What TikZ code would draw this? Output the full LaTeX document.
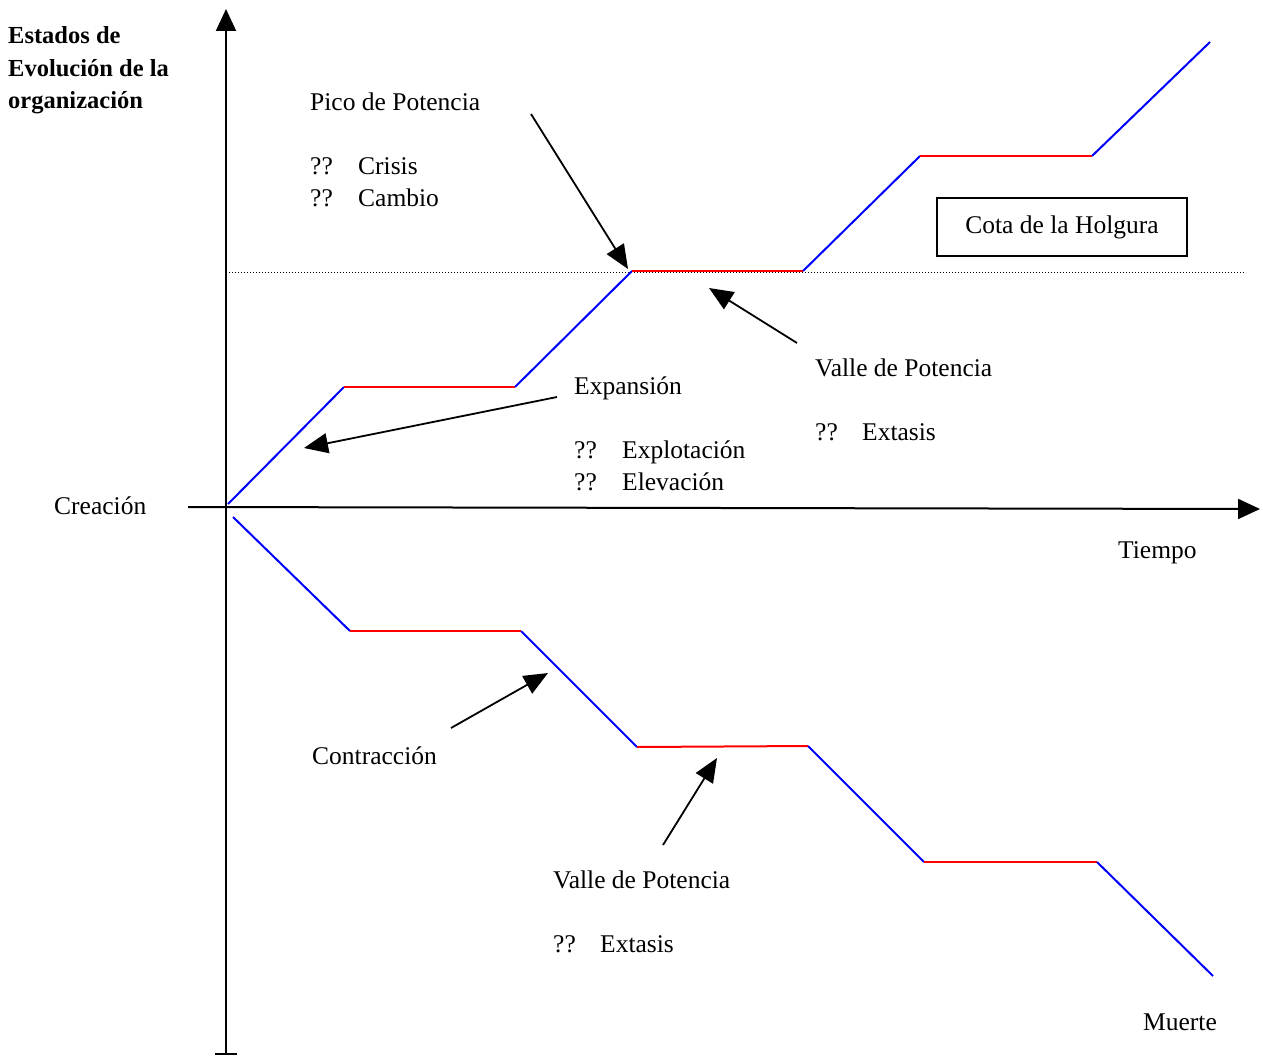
\documentclass[tikz,border=0pt]{standalone}
\usepackage{fontspec}
\setmainfont{Liberation Serif}
\usetikzlibrary{arrows.meta}
\begin{document}
\begin{tikzpicture}[x=1pt,y=-1pt,
  txt/.style={anchor=base west,inner sep=0pt,font=\fontsize{25.5}{30}\selectfont},
  btxt/.style={anchor=base west,inner sep=0pt,font=\fontsize{24.5}{32}\selectfont\bfseries},
  axis/.style={line width=2pt,draw=black},
  pointer/.style={line width=1.8pt,-{Triangle[length=24pt,width=20pt]}},
  rise/.style={line width=2pt,draw=blue},
  flat/.style={line width=2pt,draw=red}]
\useasboundingbox (0,0) rectangle (1263,1057);
% axes
\coordinate (yb) at (226,1055);
\coordinate (yt) at (226,9);
\coordinate (xl) at (188,507);
\coordinate (xr) at (1260,509);
\draw[axis,{Bar[width=22pt]}-{Triangle[length=22pt,width=20pt]}] (yb) -- (yt);
\draw[axis,-{Triangle[length=22pt,width=20pt]}] (xl) -- (xr);
% dotted limit line
\coordinate (dl) at (226,272);
\coordinate (dr) at (1246,272);
\draw[line width=1pt,dotted] (dl) -- (dr);
% upper curve
\coordinate (u0) at (228,504);
\coordinate (u1) at (344,387);
\coordinate (u2) at (515,387);
\coordinate (u3) at (632,271);
\coordinate (u4) at (803,271);
\coordinate (u5) at (920,156);
\coordinate (u6) at (1092,156);
\coordinate (u7) at (1210,42);
\draw[rise] (u0) -- (u1);
\draw[flat] (u1) -- (u2);
\draw[rise] (u2) -- (u3);
\draw[flat] (u3) -- (u4);
\draw[rise] (u4) -- (u5);
\draw[flat] (u5) -- (u6);
\draw[rise] (u6) -- (u7);
% lower curve
\coordinate (l0) at (233,517);
\coordinate (l1) at (350,631);
\coordinate (l2) at (521,631);
\coordinate (l3) at (637,747);
\coordinate (l4) at (808,746);
\coordinate (l5) at (924,862);
\coordinate (l6) at (1097,862);
\coordinate (l7) at (1213,976);
\draw[rise] (l0) -- (l1);
\draw[flat] (l1) -- (l2);
\draw[rise] (l2) -- (l3);
\draw[flat] (l3) -- (l4);
\draw[rise] (l4) -- (l5);
\draw[flat] (l5) -- (l6);
\draw[rise] (l6) -- (l7);
% box
\node[draw,line width=1.5pt,minimum width=250pt,minimum height=58pt,inner sep=0pt,
  font=\fontsize{25.5}{30}\selectfont] (cota) at (1062,227) {Cota de la Holgura};
% texts
\node[btxt] (t1) at (8,44) {Estados de};
\node[btxt] (t2) at (8,76) {Evolución de la};
\node[btxt] (t3) at (8,108) {organización};
\node[txt] (pico) at (310,110) {Pico de Potencia};
\node[txt] (q1) at (310,174) {??};
\node[txt] (crisis) at (358,174) {Crisis};
\node[txt] (q2) at (310,206) {??};
\node[txt] (cambio) at (358,206) {Cambio};
\node[txt] (valle1) at (815,376) {Valle de Potencia};
\node[txt] (q3) at (815,440) {??};
\node[txt] (ext1) at (862,440) {Extasis};
\node[txt] (expan) at (574,394) {Expansión};
\node[txt] (q4) at (574,458) {??};
\node[txt] (explo) at (622,458) {Explotación};
\node[txt] (q5) at (574,490) {??};
\node[txt] (eleva) at (622,490) {Elevación};
\node[txt] (crea) at (54,514) {Creación};
\node[txt] (tiempo) at (1118,558) {Tiempo};
\node[txt] (contr) at (312,764) {Contracción};
\node[txt] (valle2) at (553,888) {Valle de Potencia};
\node[txt] (q6) at (553,952) {??};
\node[txt] (ext2) at (600,952) {Extasis};
\node[txt] (muerte) at (1143,1030) {Muerte};
% pointers
\coordinate (pA) at (531,114);  \coordinate (pAt) at (628,269);
\coordinate (pB) at (797,343);  \coordinate (pBt) at (709,288);
\coordinate (pC) at (557,397);  \coordinate (pCt) at (304,448);
\coordinate (pD) at (451,728);  \coordinate (pDt) at (548,673);
\coordinate (pE) at (663,845);  \coordinate (pEt) at (717,758);
\draw[pointer] (pA) -- (pAt);
\draw[pointer] (pB) -- (pBt);
\draw[pointer] (pC) -- (pCt);
\draw[pointer] (pD) -- (pDt);
\draw[pointer] (pE) -- (pEt);
\end{tikzpicture}
\end{document}
